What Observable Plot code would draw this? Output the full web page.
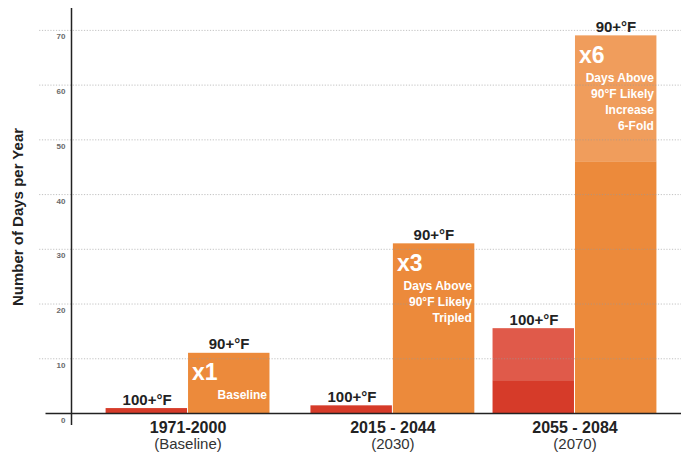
<!DOCTYPE html>
<html>
<head>
<meta charset="utf-8">
<script src="https://cdn.jsdelivr.net/npm/d3@7"></script>
<script src="https://cdn.jsdelivr.net/npm/@observablehq/plot@0.6"></script>
<style>
  html, body { margin: 0; padding: 0; background: #fff; }
  #chart { width: 681px; height: 454px; }
  g[aria-label="temp labels"] text { letter-spacing: 0.8px; }
</style>
</head>
<body>
<div id="chart"></div>
<script>
// ---- data ----
const periods = ["1971-2000", "2015 - 2044", "2055 - 2084"];
const periodNotes = ["(Baseline)", "(2030)", "(2070)"];
const midYears = [1985, 2030, 2070];
const days100Low = [0.9, 1.4, 6];
const days100High = [0.9, 1.4, 15.5];
const days90Low = [11, 31, 46];
const days90High = [11, 31, 69];
const multipliers = ["x1", "x3", "x6"];
const notes = ["Baseline", "Days Above\n90°F Likely\nTripled", "Days Above\n90°F Likely\nIncrease\n6-Fold"];
const label100 = "100+°F";
const label90 = "90+°F";
const yTicks = [0, 10, 20, 30, 40, 50, 60, 70];
const yTitle = "Number of Days per Year";

// ---- layout constants ----
const barW = 18;           // bar width in years
const xStart = 1959.4, xEnd = 2093.4;
const yMax = 74;

const rows = periods.map((p, i) => ({
  period: p, note: periodNotes[i], mid: midYears[i],
  lo100: days100Low[i], hi100: days100High[i],
  lo90: days90Low[i], hi90: days90High[i],
  mult: multipliers[i], text: notes[i]
}));

const font = "'Liberation Sans', Arial, sans-serif";

const chart = Plot.plot({
  width: 681,
  height: 454,
  marginLeft: 71,
  marginRight: 0,
  marginTop: 8,
  marginBottom: 41,
  style: { fontFamily: font, background: "#fff" },
  x: { domain: [xStart, xEnd], axis: null },
  y: { domain: [0, yMax], axis: null },
  marks: [
    // 100+ bars
    Plot.rectY(rows, { x1: d => d.mid - barW, x2: d => d.mid, y1: 0, y2: "lo100", fill: "#d63b29", insetRight: 0.5 }),
    Plot.rectY(rows, { x1: d => d.mid - barW, x2: d => d.mid, y1: "lo100", y2: "hi100", fill: "#e05a4a", insetRight: 0.5 }),
    // 90+ bars
    Plot.rectY(rows, { x1: d => d.mid, x2: d => d.mid + barW, y1: 0, y2: "lo90", fill: "#ec8a3b", insetLeft: 0.5 }),
    Plot.rectY(rows, { x1: d => d.mid, x2: d => d.mid + barW, y1: "lo90", y2: "hi90", fill: "#f09d5c", insetLeft: 0.5 }),
    // grid lines
    Plot.ruleY(yTicks.filter(t => t > 0), { x1: xStart - 7, x2: xEnd, stroke: "#9a9a9a", strokeOpacity: 0.6, strokeDasharray: "1.2,1.6" }),
    // axes lines
    Plot.ruleX([xStart], { y1: -2.2, y2: yMax, stroke: "#222", strokeWidth: 1.5 }),
    Plot.ruleY([0], { x1: xStart - 5.6, x2: xEnd, stroke: "#222", strokeWidth: 1.5 }),
    // y tick labels
    Plot.text(yTicks, { x: xStart, y: d => d, text: d => String(d), textAnchor: "end", dx: -6, dy: 6.5, fontSize: 8, fontWeight: "bold", fill: "#6a6a6a" }),
    // y title
    Plot.text([yTitle], { frameAnchor: "left", textAnchor: "middle", rotate: -90, dx: -53, dy: 6, fontSize: 15, fontWeight: "bold", fill: "#222" }),
    // temperature labels
    Plot.text(rows, { x: d => d.mid - barW / 2, y: "hi100", text: () => label100, lineAnchor: "bottom", dy: -4, fontSize: 15, fontWeight: "bold", fill: "#222", ariaLabel: "temp labels" }),
    Plot.text(rows, { x: d => d.mid + barW / 2, y: "hi90", text: () => label90, lineAnchor: "bottom", dy: -4, fontSize: 15, fontWeight: "bold", fill: "#222", ariaLabel: "temp labels" }),
    // multiplier annotations
    Plot.text(rows, { x: "mid", y: "hi90", text: "mult", textAnchor: "start", lineAnchor: "bottom", dx: 4, dy: 27, fontSize: 23, fontWeight: "bold", fill: "#fff" }),
    Plot.text(rows, { x: d => d.mid + barW, y: "hi90", text: "text", textAnchor: "end", lineAnchor: "top", lineHeight: 1.34, dx: -3, dy: 34.5, fontSize: 12, fontWeight: "bold", fill: "#fff" }),
    // x labels
    Plot.text(rows, { x: "mid", y: 0, text: "period", lineAnchor: "bottom", dy: 19, fontSize: 16, fontWeight: "bold", fill: "#222" }),
    Plot.text(rows, { x: "mid", y: 0, text: "note", lineAnchor: "bottom", dy: 35, fontSize: 15, fill: "#333" })
  ]
});

document.getElementById("chart").appendChild(chart);
</script>
</body>
</html>
